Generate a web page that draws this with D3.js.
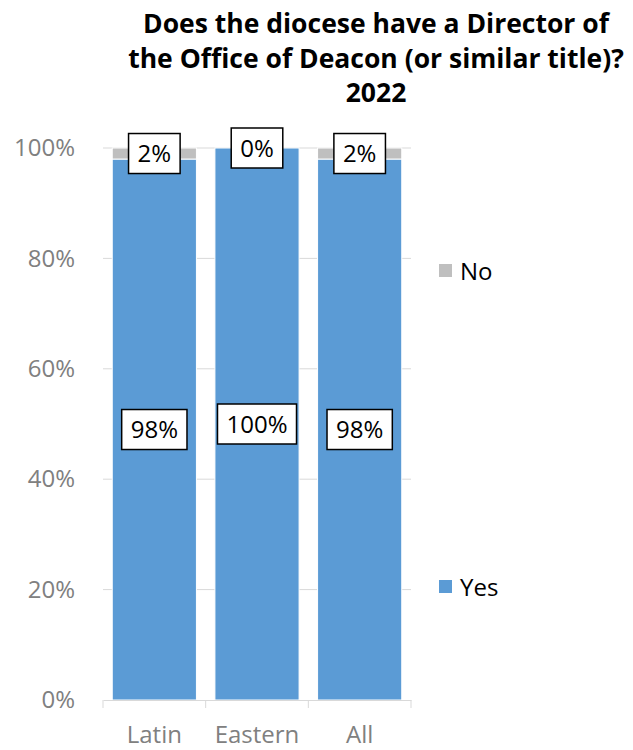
<!DOCTYPE html>
<html>
<head>
<meta charset="utf-8">
<script src="https://cdn.jsdelivr.net/npm/d3@7"></script>
<style>
  body { margin: 0; background: #fff; }
  svg { font-family: "Open Sans", sans-serif; }
</style>
</head>
<body>
<div id="chart"></div>
<script>
// chart data
const categories = ["Latin", "Eastern", "All"];
const yesValues = [0.98, 1.00, 0.98];
const noValues = [0.02, 0.00, 0.02];
const yTicks = [0, 0.2, 0.4, 0.6, 0.8, 1.0];
const titleLines = ["Does the diocese have a Director of", "the Office of Deacon (or similar title)?", "2022"];

const width = 633, height = 750;
const margin = {top: 148, right: 222, bottom: 50, left: 103};
const innerW = width - margin.left - margin.right;
const innerH = height - margin.top - margin.bottom;

const svg = d3.select("#chart").append("svg")
    .attr("width", width)
    .attr("height", height);

// title
svg.append("g")
    .selectAll("text")
    .data(titleLines)
    .join("text")
    .attr("x", 376)
    .attr("y", (d, i) => 33 + i * 34.5)
    .attr("text-anchor", "middle")
    .attr("font-size", 26.5)
    .attr("font-weight", "bold")
    .attr("fill", "#000")
    .text(d => d);

const g = svg.append("g")
    .attr("transform", `translate(${margin.left},${margin.top})`);

const xScale = d3.scaleBand().domain(categories).range([0, innerW]).paddingInner(0.18).paddingOuter(0.09);
const yScale = d3.scaleLinear().domain([0, 1]).range([innerH, 0]);

// gridlines
g.append("g")
    .selectAll("line")
    .data(yTicks.slice(1))
    .join("line")
    .attr("x1", 0).attr("x2", innerW)
    .attr("y1", d => yScale(d)).attr("y2", d => yScale(d))
    .attr("stroke", "#d9d9d9").attr("stroke-width", 1);

// y axis labels
const yAxis = g.append("g")
    .call(d3.axisLeft(yScale).tickValues(yTicks).tickFormat(d3.format(".0%")).tickSize(0).tickPadding(28));
yAxis.select(".domain").remove();
yAxis.selectAll("text").attr("font-size", 24).attr("fill", "#808080").attr("font-family", "Open Sans, sans-serif");

// stacked data
const stackData = categories.map((c, i) => ({cat: c, Yes: yesValues[i], No: noValues[i]}));
const series = d3.stack().keys(["Yes", "No"])(stackData);
const colors = {Yes: "#5b9bd5", No: "#bfbfbf"};

g.append("g")
    .selectAll("g")
    .data(series)
    .join("g")
    .attr("fill", d => colors[d.key])
    .selectAll("rect")
    .data(d => d)
    .join("rect")
    .attr("x", d => xScale(d.data.cat))
    .attr("width", xScale.bandwidth())
    .attr("y", d => yScale(d[1]))
    .attr("height", d => yScale(d[0]) - yScale(d[1]))
    .attr("stroke", "#fff")
    .attr("stroke-width", 1);

// x axis
const xAxis = g.append("g")
    .attr("transform", `translate(0,${innerH})`)
    .call(d3.axisBottom(xScale).tickSize(0).tickPadding(26));
xAxis.select(".domain").attr("stroke", "#d9d9d9");
xAxis.selectAll("text").attr("font-size", 24).attr("fill", "#808080").attr("font-family", "Open Sans, sans-serif");
// category separator ticks
const edges = d3.range(categories.length + 1).map(i => i * innerW / categories.length);
xAxis.selectAll(".sep")
    .data(edges)
    .join("line")
    .attr("class", "sep")
    .attr("x1", d => d).attr("x2", d => d)
    .attr("y1", 0).attr("y2", 8)
    .attr("stroke", "#d9d9d9");

// data labels
const labels = [];
series.forEach(s => s.forEach(d => {
    labels.push({cat: d.data.cat, v: d.data[s.key], mid: (d[0] + d[1]) / 2});
}));
const labelG = g.append("g")
    .selectAll("g")
    .data(labels)
    .join("g")
    .attr("transform", d => `translate(${xScale(d.cat) + xScale.bandwidth() / 2},${yScale(d.mid)})`);
labelG.append("text")
    .attr("text-anchor", "middle")
    .attr("dy", "0.36em")
    .attr("font-size", 24)
    .attr("fill", "#000")
    .text(d => d3.format(".0%")(d.v));
labelG.each(function () {
    const sel = d3.select(this);
    const bb = sel.select("text").node().getBBox();
    sel.insert("rect", "text")
        .attr("x", bb.x - 9).attr("y", -20)
        .attr("width", bb.width + 18).attr("height", 40)
        .attr("fill", "#fff").attr("stroke", "#000").attr("stroke-width", 1.5);
});

// legend
const legendItems = [{key: "No", y: 271}, {key: "Yes", y: 587}];
const leg = svg.append("g")
    .selectAll("g")
    .data(legendItems)
    .join("g")
    .attr("transform", d => `translate(439,${d.y})`);
leg.append("rect")
    .attr("x", 0).attr("y", -7)
    .attr("width", 13).attr("height", 13)
    .attr("fill", d => colors[d.key]);
leg.append("text")
    .attr("x", 21).attr("dy", "0.36em")
    .attr("font-size", 24)
    .attr("fill", "#000")
    .text(d => d.key);
</script>
</body>
</html>
